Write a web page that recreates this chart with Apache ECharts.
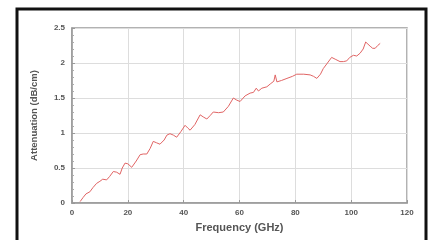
<!DOCTYPE html>
<html>
<head>
<meta charset="utf-8">
<script src="https://cdn.jsdelivr.net/npm/echarts@6/dist/echarts.min.js"></script>
<style>
  html, body { margin: 0; padding: 0; background: #fff; }
  #chart { width: 431px; height: 240px; }
</style>
</head>
<body>
<div id="chart"></div>
<script>
// measured curve
var freq = [2.9, 4, 5, 6.4, 7.5, 8.8, 10, 11, 12.4, 13.5, 14.8, 16, 17.2, 18, 19, 20, 21.4, 23, 24.4, 25.5,
  26.8, 28, 29.1, 30.3, 31.5, 33, 34, 35.1, 36.3, 37.5, 39, 40.5, 41.5, 42.3, 44, 45.9, 47, 48.3, 49.5, 50.6,
  52.5, 54.2, 56, 57.8, 59, 60.2, 62, 63.8, 65, 66, 66.8, 68, 69.8, 71, 72.3, 72.8, 73.4, 75, 77, 79,
  80.5, 83, 85.3, 86.5, 87.7, 89, 90, 91.5, 93, 94.5, 96, 97.2, 98.4, 99.5, 100.8, 102, 103.2, 104.3, 105.2, 106,
  106.8, 107.7, 108.6, 109.5, 110.4];
var atten = [0.02, 0.08, 0.13, 0.16, 0.22, 0.28, 0.31, 0.34, 0.33, 0.38, 0.45, 0.44, 0.41, 0.5, 0.57, 0.56, 0.51, 0.6, 0.69, 0.70,
  0.70, 0.78, 0.88, 0.86, 0.84, 0.90, 0.97, 0.99, 0.97, 0.94, 1.02, 1.11, 1.07, 1.04, 1.12, 1.26, 1.23, 1.20, 1.25, 1.30,
  1.29, 1.30, 1.38, 1.50, 1.47, 1.45, 1.53, 1.57, 1.58, 1.64, 1.60, 1.64, 1.66, 1.70, 1.74, 1.83, 1.73, 1.75, 1.78, 1.81,
  1.84, 1.84, 1.83, 1.81, 1.78, 1.84, 1.92, 2.00, 2.08, 2.05, 2.02, 2.02, 2.03, 2.08, 2.11, 2.10, 2.14, 2.20, 2.30, 2.27,
  2.24, 2.21, 2.21, 2.25, 2.28];

var xTicks = [0, 20, 40, 60, 80, 100, 120];
var yTicks = [0, 0.5, 1, 1.5, 2, 2.5];

var pts = freq.map(function (f, i) { return [f, atten[i]]; });

var myChart = echarts.init(document.getElementById('chart'));

var labelStyle = {
    color: '#555',
    fontSize: 8,
    fontWeight: 'bold',
    fontFamily: 'Liberation Sans'
};

var option = {
    backgroundColor: '#fff',
    animation: false,
    graphic: [{
        type: 'rect',
        shape: { x: 17, y: 9, width: 409, height: 240 },
        style: { fill: 'none', stroke: '#111', lineWidth: 3 }
    }],
    grid: {
        left: 72,
        right: 24,
        top: 28,
        bottom: 37,
        show: true,
        borderColor: '#999',
        borderWidth: 1.5
    },
    xAxis: {
        type: 'value',
        min: 0,
        max: 120,
        interval: 20,
        name: 'Frequency (GHz)',
        nameLocation: 'middle',
        nameGap: 19,
        nameTextStyle: Object.assign({}, labelStyle, { fontSize: 11 }),
        axisLine: { show: true, lineStyle: { color: '#999', width: 1.5 } },
        axisTick: { show: true, inside: true, length: 3, lineStyle: { color: '#999' } },
        axisLabel: Object.assign({ margin: 6, formatter: function (v) { return xTicks.indexOf(v) >= 0 ? v : ''; } }, labelStyle),
        splitLine: { show: true, lineStyle: { color: '#ddd', width: 1 } }
    },
    yAxis: {
        type: 'value',
        min: 0,
        max: 2.5,
        interval: 0.5,
        name: 'Attenuation (dB/cm)',
        nameLocation: 'middle',
        nameGap: 33,
        nameTextStyle: Object.assign({}, labelStyle, { fontSize: 9.5 }),
        axisLine: { show: true, lineStyle: { color: '#999', width: 1.5 } },
        axisTick: { show: true, inside: true, length: 3, lineStyle: { color: '#999' } },
        minorTick: { show: true, splitNumber: 5, length: 2, lineStyle: { color: '#aaa' } },
        axisLabel: Object.assign({ margin: 7, formatter: function (v) { return yTicks.indexOf(v) >= 0 ? v : ''; } }, labelStyle),
        splitLine: { show: true, lineStyle: { color: '#ddd', width: 1 } }
    },
    series: [{
        type: 'line',
        data: pts,
        showSymbol: false,
        smooth: false,
        lineStyle: { color: '#e06464', width: 1 }
    }]
};

myChart.setOption(option);
</script>
</body>
</html>
